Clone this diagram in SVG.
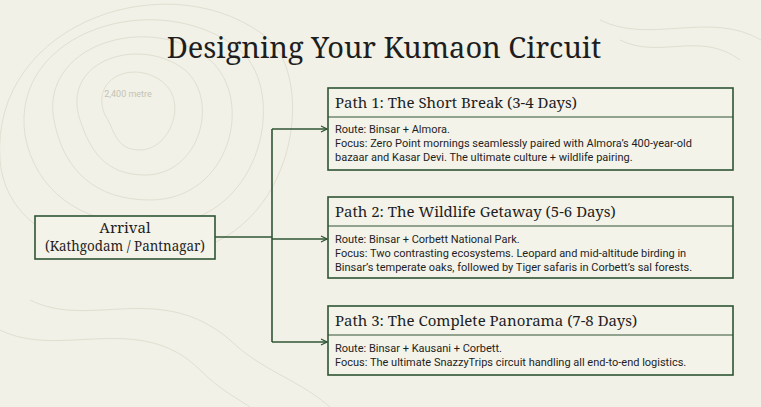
<svg xmlns="http://www.w3.org/2000/svg" width="761" height="407" viewBox="0 0 761 407">
<style>
.box{fill:#f4f3ea;stroke:#2f5434;stroke-width:1.6}
.div{stroke:#2f5434;stroke-width:1.2}
.h{font-family:"Noto Serif","DejaVu Serif",serif;font-size:15px;fill:#1e1e1e}
.b{font-family:Roboto,"Liberation Sans",sans-serif;font-size:11px;fill:#1e1e1e}
.c{fill:none;stroke:#2f5434;stroke-width:1.6}
.topo{fill:none;stroke:#e1dfd1;stroke-width:1}
</style>
<defs><marker id="a" markerWidth="8" markerHeight="8" refX="7" refY="4" orient="auto" markerUnits="userSpaceOnUse"><path d="M1,1 L7,4 L1,7" fill="none" stroke="#2f5434" stroke-width="1.2"/></marker></defs>
<rect width="761" height="407" fill="#f2f1e7"/>
<g class="topo">
<path d="M105,115 C90,80 130,60 160,80 C190,100 170,150 140,150 C115,150 115,130 105,115Z"/>
<path d="M80,120 C60,60 140,35 185,70 C220,100 200,175 145,175 C105,175 90,150 80,120Z"/>
<path d="M55,125 C35,45 150,10 210,60 C255,100 230,200 150,200 C95,200 65,170 55,125Z"/>
<path d="M25,135 C10,30 160,-15 240,50 C290,95 260,230 150,225 C80,225 35,190 25,135Z"/>
<path d="M0,160 C-10,20 175,-40 270,40 C320,90 290,260 150,255 C60,255 5,220 0,160Z"/>
<path d="M620,40 C660,60 700,30 740,60"/><path d="M600,20 C650,45 710,10 761,40"/>
<path d="M30,300 C90,330 160,280 230,340 C260,370 300,380 330,407"/>
<path d="M0,330 C60,360 140,310 200,370 C220,390 240,400 250,407"/>
</g>
<text x="384" y="58" text-anchor="middle" font-family="'Noto Serif','DejaVu Serif',serif" font-size="29" fill="#1e1e1e">Designing Your Kumaon Circuit</text>
<text x="128" y="97" text-anchor="middle" font-family="Roboto,sans-serif" font-size="9" fill="#c4c2b4">2,400 metre</text>
<g id="connectors">
<path class="c" d="M215,237 H272"/>
<path class="c" d="M272,129 V342"/>
<path class="c" d="M272,129 H327" marker-end="url(#a)"/>
<path class="c" d="M272,239 H327" marker-end="url(#a)"/>
<path class="c" d="M272,342 H327" marker-end="url(#a)"/>
</g>
<g id="arrival">
<rect class="box" x="35" y="216" width="180" height="43"/>
<text class="h" x="125" y="233" text-anchor="middle" font-size="12.5">Arrival</text>
<text class="h" x="125" y="251" text-anchor="middle" font-size="12.5" textLength="160" lengthAdjust="spacingAndGlyphs">(Kathgodam / Pantnagar)</text>
</g>
<g id="path1">
<rect class="box" x="328" y="88" width="405" height="82"/>
<line class="div" x1="328" y1="117" x2="733" y2="117"/>
<text class="h" x="335" y="108">Path 1: The Short Break (3-4 Days)</text>
<text class="b" x="335" y="133">Route: Binsar + Almora.</text>
<text class="b" x="335" y="147">Focus: Zero Point mornings seamlessly paired with Almora’s 400-year-old</text>
<text class="b" x="335" y="161">bazaar and Kasar Devi. The ultimate culture + wildlife pairing.</text>
</g>
<g id="path2">
<rect class="box" x="328" y="197" width="405" height="81"/>
<line class="div" x1="328" y1="226" x2="733" y2="226"/>
<text class="h" x="335" y="217">Path 2: The Wildlife Getaway (5-6 Days)</text>
<text class="b" x="335" y="243">Route: Binsar + Corbett National Park.</text>
<text class="b" x="335" y="257">Focus: Two contrasting ecosystems. Leopard and mid-altitude birding in</text>
<text class="b" x="335" y="271">Binsar’s temperate oaks, followed by Tiger safaris in Corbett’s sal forests.</text>
</g>
<g id="path3">
<rect class="box" x="328" y="306" width="405" height="69"/>
<line class="div" x1="328" y1="335" x2="733" y2="335"/>
<text class="h" x="335" y="326">Path 3: The Complete Panorama (7-8 Days)</text>
<text class="b" x="335" y="352">Route: Binsar + Kausani + Corbett.</text>
<text class="b" x="335" y="366">Focus: The ultimate SnazzyTrips circuit handling all end-to-end logistics.</text>
</g>
</svg>
